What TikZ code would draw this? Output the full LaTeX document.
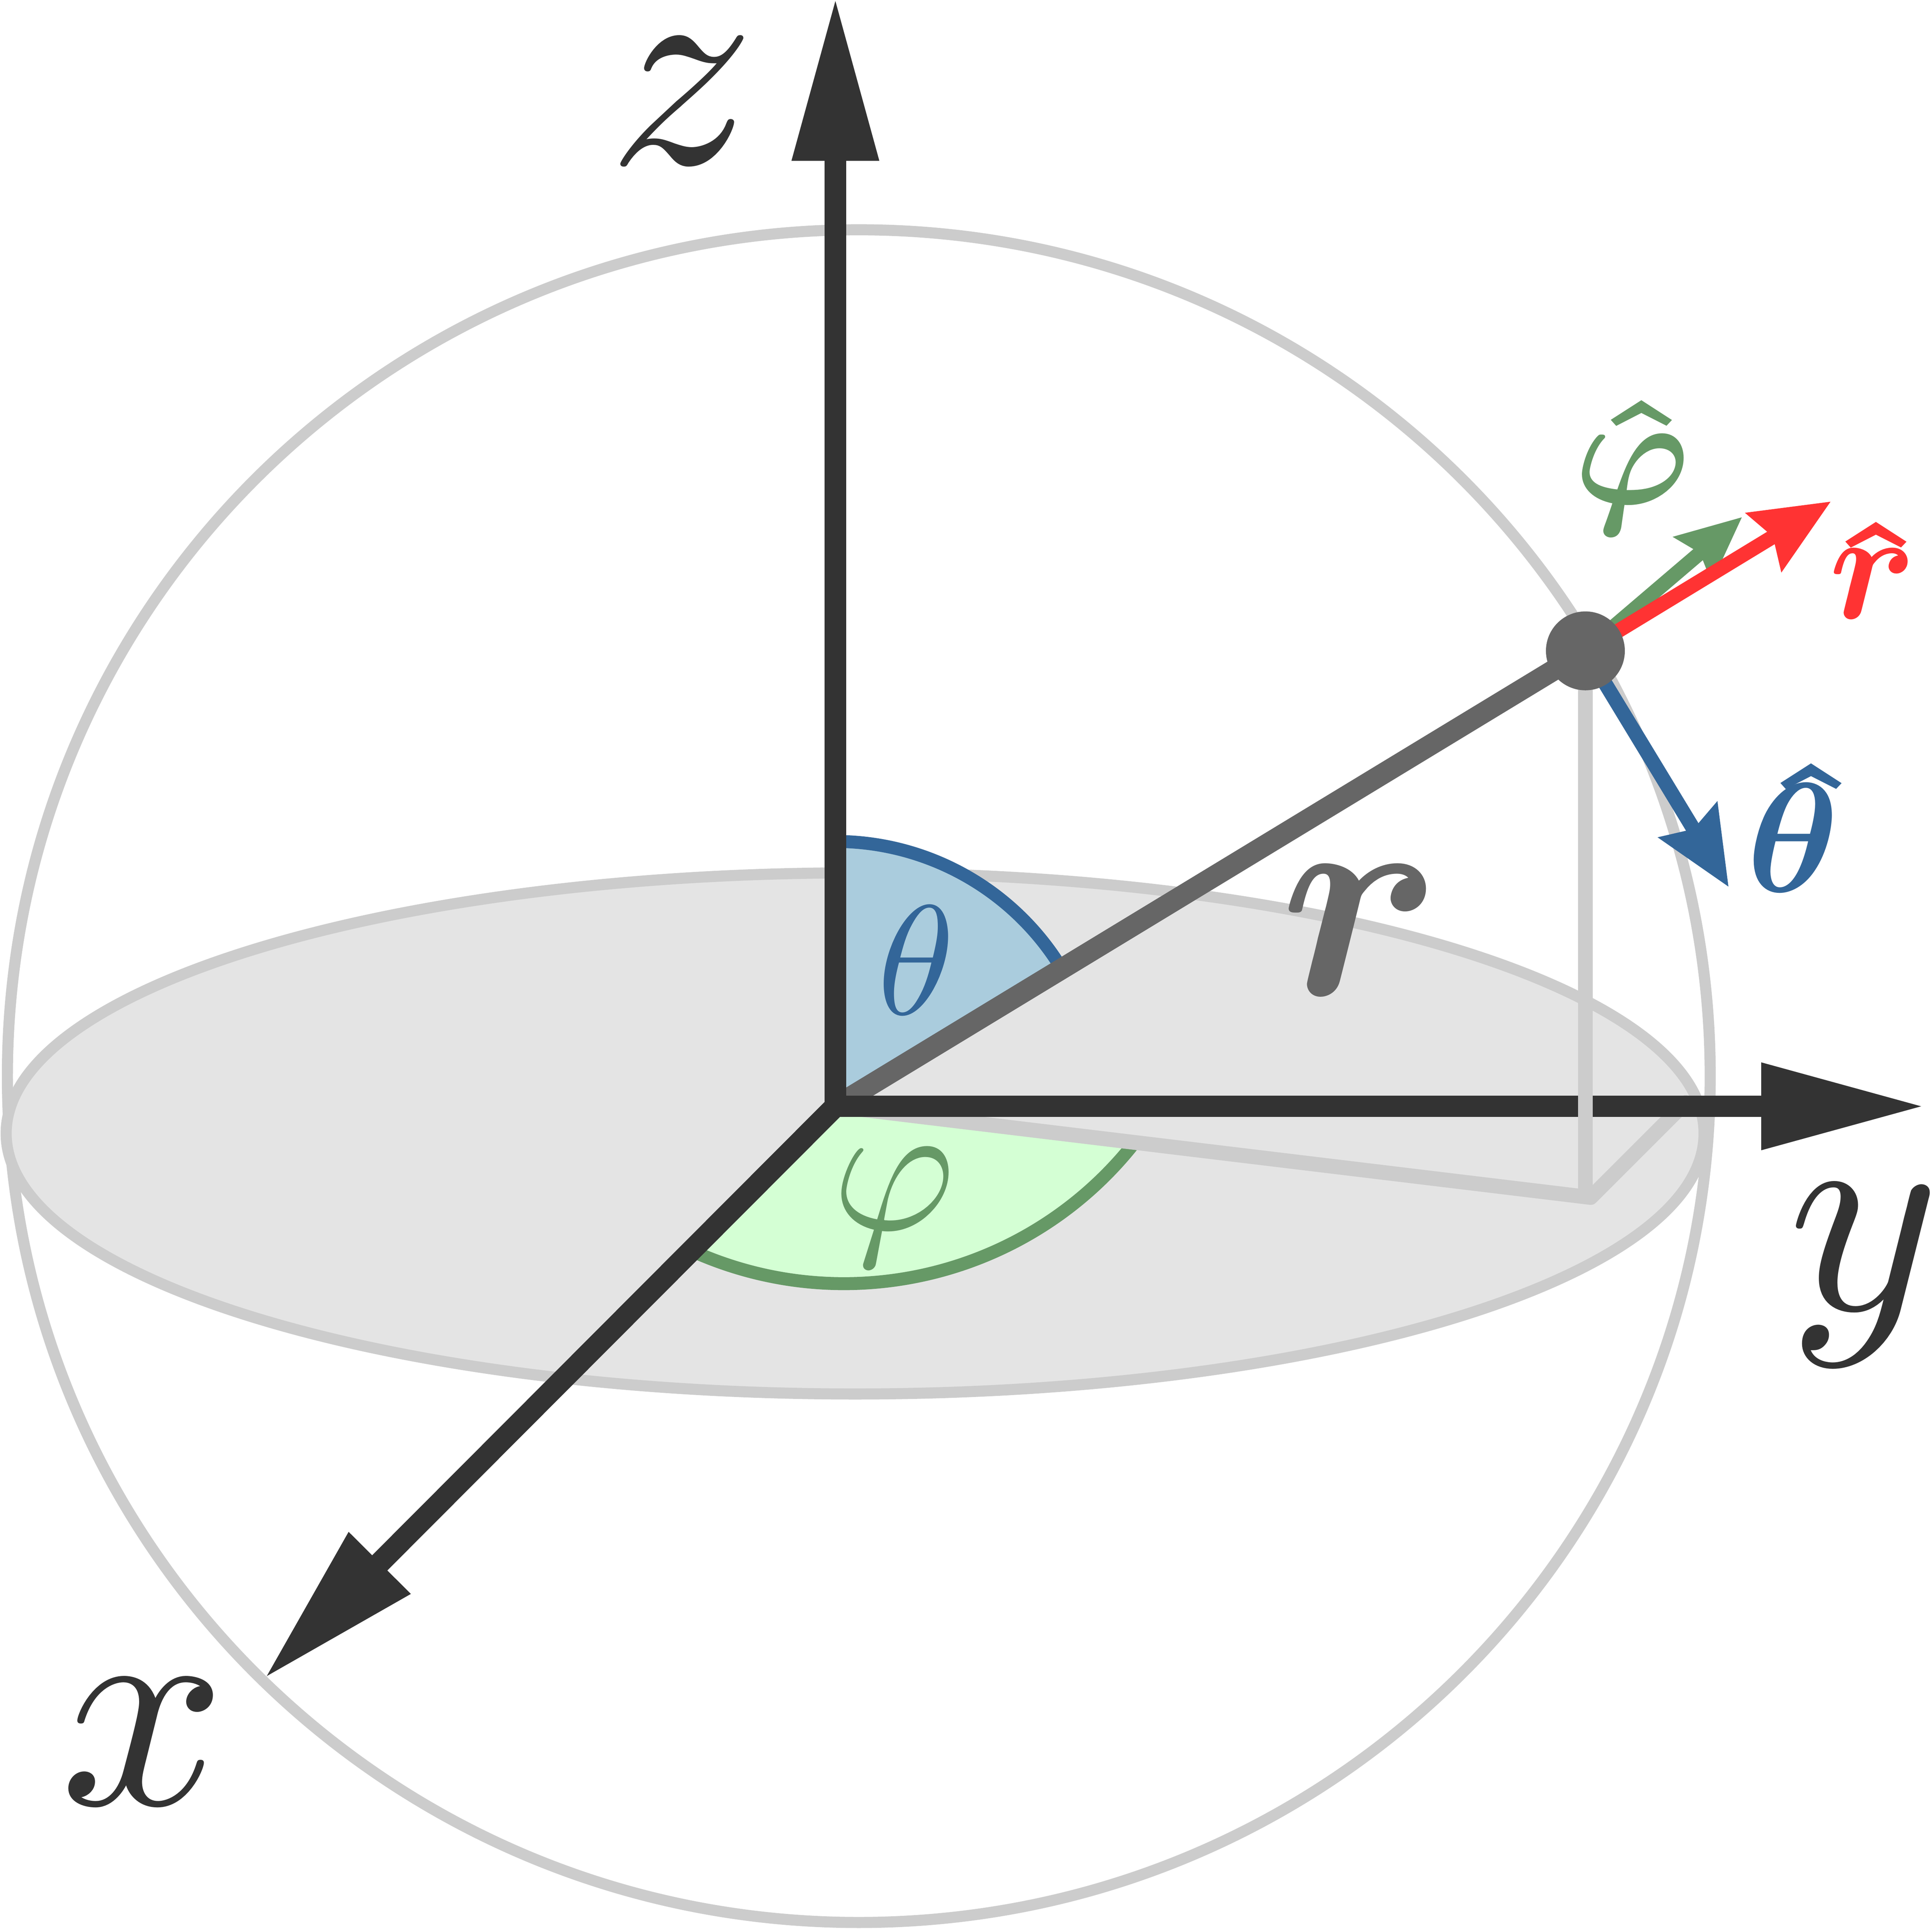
\documentclass[tikz,border=0pt]{standalone}
\usepackage{amsmath,amssymb}
\usepackage{tikz}
\usetikzlibrary{arrows.meta}
\definecolor{axisgray}{HTML}{333333}
\definecolor{radgray}{HTML}{666666}
\definecolor{shellgray}{HTML}{CCCCCC}
\definecolor{diskgray}{HTML}{E4E4E4}
\definecolor{thetablue}{HTML}{336699}
\definecolor{thetafill}{HTML}{AACCDD}
\definecolor{phigreen}{HTML}{669966}
\definecolor{phifill}{HTML}{D4FFD4}
\definecolor{rhatred}{HTML}{FF3333}
\newcommand{\unithat}[3]{%
  \rlap{\kern#3\raisebox{#2}{\scalebox{1.25}[1]{$\boldsymbol{\hat{\hphantom{x}}}$}}}%
  $\boldsymbol{#1}$%
}

\begin{document}
\begin{tikzpicture}[x=0.01cm, y=0.01cm, style={
  shell/.style={
    draw=shellgray,
    line width=0.09cm,
  },
  guide/.style={
    draw=shellgray,
    line width=0.12cm,
    line cap=round,
    line join=round,
  },
  axisline/.style={
    draw=axisgray,
    line width=0.174cm,
    -{Triangle[length=1.33cm, width=0.66cm]},
  },
  hatline/.style={
    line width=0.118cm,
    -{Stealth[length=0.63cm, width=0.54cm, inset=0.08cm]},
  },
  phiarrow/.style={
    line width=0.118cm,
    -{Stealth[length=0.52cm, width=0.46cm, inset=0.07cm]},
  },
  biglabel/.style={
    inner sep=0pt,
    scale=6.7,
    text=axisgray,
  },
  hatlabel/.style={
    inner sep=0pt,
    scale=3.6,
    anchor=base west,
  },
}]
\useasboundingbox (0,0) rectangle (1568,-1565.6);
\coordinate (origin) at (678,-898);
\coordinate (pnt) at (1286.7,-528.3);
\coordinate (corner) at (1291,-972);
\coordinate (footpnt) at (1286.7,-971);
\coordinate (diagend) at (1368,-895);
\coordinate (ztip) at (678,2.5);
\coordinate (ytip) at (1562.5,-898);
\coordinate (xtip) at (214.2,-1362.8);
\coordinate (phitip) at (1414,-419.6);
\coordinate (rhattip) at (1486,-407);
\coordinate (thetatip) at (1403,-720);
\coordinate (thetastart) at (678,-683);
\coordinate (phistart) at (563,-1016);
\draw[shell] (697,-873.5) ellipse [x radius=691, y radius=687];
\draw[shell, fill=diskgray] (694,-920) ellipse [x radius=689, y radius=211.5];
\fill[thetafill]
  (origin) -- (thetastart) arc[start angle=90, end angle=31.3, radius=215] -- cycle;
\draw[thetablue, line width=0.105cm]
  (thetastart) arc[start angle=90, end angle=31.3, radius=215];
\fill[phifill]
  (origin) -- (phistart) arc[start angle=-114, end angle=-38, radius=300] -- cycle;
\draw[phigreen, line width=0.105cm]
  (phistart) arc[start angle=-114, end angle=-38, radius=300];
\draw[guide] (origin) -- (corner) -- (diagend);
\draw[radgray, line width=0.17cm] (origin) -- (pnt);
\draw[axisline] (origin) -- (xtip);
\draw[axisline] (origin) -- (ztip);
\draw[axisline] (origin) -- (ytip);
\draw[guide] (pnt) -- (footpnt);
\draw[phiarrow, draw=phigreen, fill=phigreen] (pnt) -- (phitip);
\draw[hatline, draw=rhatred, fill=rhatred] (pnt) -- (rhattip);
\draw[hatline, draw=thetablue, fill=thetablue] (pnt) -- (thetatip);
\draw
  node[circle, fill=radgray, inner sep=0pt, minimum size=0.64cm] (pntdot) at (pnt) {}
  node[biglabel] (zlabel) at (553.5,-82) {$z$}
  node[biglabel] (ylabel) at (1513,-1035) {$y$}
  node[biglabel] (xlabel) at (116,-1414) {$x$}
  node[biglabel, text=radgray] (rlabel) at (1104.5,-755) {$\boldsymbol{r}$}
  node[inner sep=0pt, scale=3.6, text=thetablue] (thetalabel) at (743.5,-779.5) {$\theta$}
  node[inner sep=0pt, scale=4.35, text=phigreen] (philabel) at (725.5,-980) {$\varphi$}
  node[hatlabel, text=phigreen] (phihat) at (1275,-409) {\unithat{\varphi}{-0.31pt}{0.2pt}}
  node[hatlabel, text=rhatred] (rhat) at (1482,-502) {\unithat{r}{-0.75pt}{-1.11pt}}
  node[hatlabel, text=thetablue] (thetahat) at (1415,-724) {\unithat{\theta}{1.3pt}{0.04pt}}
;
\end{tikzpicture}
\end{document}
